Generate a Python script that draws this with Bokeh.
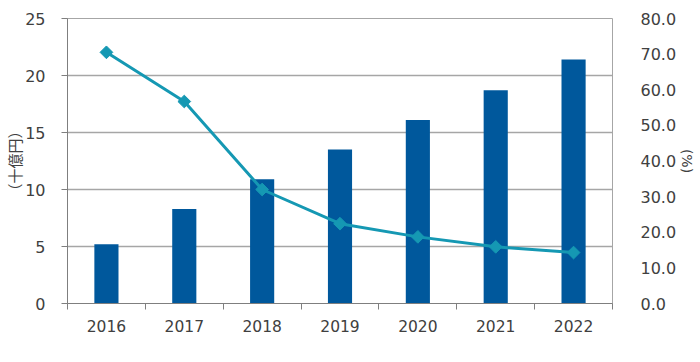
import math
from bokeh.plotting import figure
from bokeh.models import Range1d, LinearAxis, FixedTicker, NumeralTickFormatter
from bokeh.embed import file_html
from bokeh.resources import INLINE

years = ["2016", "2017", "2018", "2019", "2020", "2021", "2022"]
market = [5.2, 8.3, 10.9, 13.5, 16.1, 18.7, 21.4]          # 十億円
growth = [70.5, 56.7, 32.0, 22.4, 18.7, 15.9, 14.3]         # %
left_ticks = [0, 5, 10, 15, 20, 25]
right_ticks = [0, 10, 20, 30, 40, 50, 60, 70, 80]

BAR = "#00589C"
LINE = "#1598B3"
TXT = "#404040"
FONT = "DejaVu Sans"
CJK = "Noto Sans CJK JP"

xpos = [i + 0.5 for i in range(len(years))]

p = figure(width=700, height=362, output_backend="svg", toolbar_location=None,
           x_range=Range1d(0, len(years)), y_range=Range1d(0, 25),
           min_border_left=67, min_border_right=88, min_border_top=18, min_border_bottom=59)
p.extra_y_ranges = {"pct": Range1d(0, 80)}

p.outline_line_color = "#A6A6A6"
p.xgrid.grid_line_color = None
p.ygrid.grid_line_color = "#A6A6A6"
p.ygrid.grid_line_width = 1.3

# x axis: labels at centers, tick marks at category boundaries
xa = p.xaxis[0]
xa.ticker = FixedTicker(ticks=xpos, minor_ticks=list(range(len(years) + 1)))
xa.major_label_overrides = {x: y for x, y in zip(xpos, years)}
xa.major_tick_out = 0
xa.major_tick_in = 0
xa.minor_tick_out = 6
xa.minor_tick_in = 0
xa.minor_tick_line_color = "#7F7F7F"
xa.axis_line_color = "#7F7F7F"
xa.major_label_standoff = 10
xa.major_label_text_font = FONT
xa.major_label_text_font_size = "15.5px"
xa.major_label_text_color = TXT

ya = p.yaxis[0]
ya.ticker = FixedTicker(ticks=left_ticks)
ya.major_tick_out = 6
ya.major_tick_in = 0
ya.minor_tick_line_color = None
ya.major_tick_line_color = "#7F7F7F"
ya.axis_line_color = "#7F7F7F"
ya.major_label_standoff = 16
ya.major_label_text_font = FONT
ya.major_label_text_font_size = "16px"
ya.major_label_text_color = TXT
ya.axis_label = "（十億円）"
ya.axis_label_text_font = CJK
ya.axis_label_text_font_size = "15px"
ya.axis_label_text_font_style = "normal"
ya.axis_label_text_color = TXT
ya.axis_label_standoff = -3

ra = LinearAxis(y_range_name="pct", ticker=FixedTicker(ticks=right_ticks),
                formatter=NumeralTickFormatter(format="0.0"))
ra.axis_line_color = None
ra.major_tick_line_color = None
ra.minor_tick_line_color = None
ra.major_tick_out = 0
ra.major_tick_in = 0
ra.minor_tick_out = 0
ra.minor_tick_in = 0
ra.major_label_standoff = 28
ra.major_label_text_font = FONT
ra.major_label_text_font_size = "16px"
ra.major_label_text_color = TXT
ra.axis_label = "(%)"
ra.axis_label_text_font = FONT
ra.axis_label_text_font_size = "14px"
ra.axis_label_text_font_style = "normal"
ra.axis_label_text_color = TXT
ra.axis_label_standoff = 0
p.add_layout(ra, "right")

p.vbar(x=xpos, top=market, width=0.31, fill_color=BAR, line_color=None)
p.line(x=xpos, y=growth, line_color=LINE, line_width=3, y_range_name="pct")
p.scatter(x=xpos, y=growth, marker="square", angle=math.pi / 4, size=9,
          fill_color=LINE, line_color=LINE, y_range_name="pct")

open("out.html", "w").write(file_html(p, INLINE))
